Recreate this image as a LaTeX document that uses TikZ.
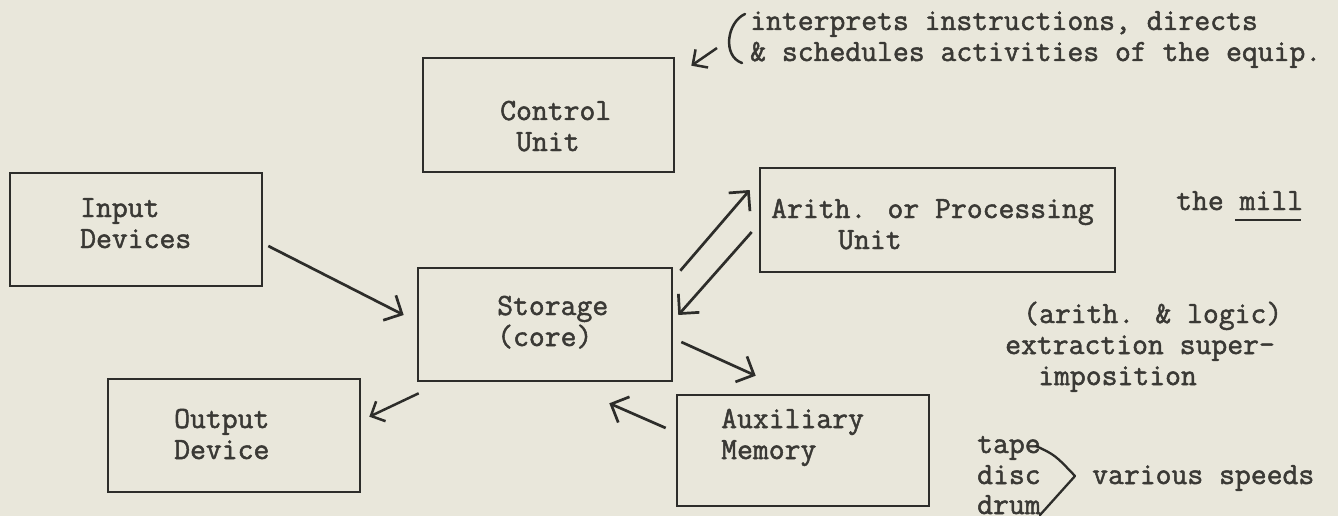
\documentclass[tikz,border=0pt]{standalone}
\usepackage{fontspec}
\newfontfamily\tw{Latin Modern Mono}[FakeBold=1.6]
\usetikzlibrary{arrows.meta,calc}
\definecolor{paper}{RGB}{233,231,219}
\definecolor{ink}{RGB}{45,45,42}
\definecolor{tink}{RGB}{58,57,53}
\begin{document}
\begin{tikzpicture}[x=1pt,y=-1pt,
  box/.style={draw=ink,line width=2.6pt,inner sep=0pt,minimum width=252pt,minimum height=113pt},
  txt/.style={inner sep=0pt,anchor=base west,font=\tw\fontsize{30.8}{31}\selectfont,text=tink},
  arr/.style={draw=ink,line width=2.7pt,-{Straight Barb[length=14pt,width=28pt,line width=2.7pt]}},
  sarr/.style={draw=ink,line width=2.5pt,-{Straight Barb[length=11pt,width=22pt,line width=2.5pt]}}]
\fill[paper] (0,0) rectangle (1338,516);
\useasboundingbox (0,0) rectangle (1338,516);
% boxes
\node[box,minimum width=251pt,minimum height=114pt] (ctl) at (548.5,115) {};
\node[box] (inp) at (136,229.5) {};
\node[box,minimum width=254pt] (sto) at (545,324.5) {};
\node[box,minimum width=355pt,minimum height=104pt] (ari) at (937.5,220) {};
\node[box] (out) at (234,435.5) {};
\node[box,minimum height=111pt] (aux) at (803,450.5) {};
% box texts
\node[txt] (t1) at (500,120) {Control};
\node[txt] (t2) at (516,151) {Unit};
\node[txt] (t3) at (80,217) {Input};
\node[txt] (t4) at (80,248) {Devices};
\node[txt] (t5) at (497,315) {Storage};
\node[txt] (t6) at (497,346) {(core)};
\node[txt] (t7) at (771,218) {Arith. or Processing};
\node[txt] (t8) at (838,249) {Unit};
\node[txt] (t9) at (174,428) {Output};
\node[txt] (t10) at (174,459) {Device};
\node[txt] (t11) at (721,428) {Auxiliary};
\node[txt] (t12) at (721,459) {Memory};
% annotations
\node[txt] (a1) at (750,30) {interprets instructions, directs};
\node[txt] (a2) at (750,61) {\& schedules activities of the equip.};
\node[txt] (a3) at (1176,210) {the mill};
\node[txt] (a4) at (1023,323) {(arith. \& logic)};
\node[txt] (a5) at (1005,354) {extraction super-};
\node[txt] (a6) at (1038,385) {imposition};
\node[txt] (a7) at (977,453) {tape};
\node[txt] (a8) at (977,484) {disc};
\node[txt] (a9) at (977,514) {drum};
\node[txt] (a10) at (1092,484) {various speeds};
% underline of mill
\draw[ink,line width=2.4pt] ($(a3.base east)+(-68,10)$) -- ($(a3.base east)+(-2,10)$);
% bracket near annotation
\draw[ink,line width=2.5pt,line cap=round] (745,14) .. controls (727,22) and (722,56) .. (742,63);
\coordinate (brk) at (717,48);
\draw[sarr] (brk) -- ($(ctl.north east)+(16,9)$);
% > bracket
\draw[ink,line width=2.3pt,line cap=round,line join=round] (1036,446) .. controls (1055,455) .. (1075,476) -- (1040,515);
% connectors
\draw[arr] ($(inp.east)+(5,16.5)$) -- ($(sto.west)+(-13,-9.5)$);
\draw[sarr] ($(sto.south west)+(2,11)$) -- ($(out.north east)+(8,39)$);
\draw[arr] ($(sto.north east)+(7,4)$) -- ($(ari.west)+(-9,-30)$);
\draw[arr] ($(ari.west)+(-7,12)$) -- ($(sto.east)+(5,-9.5)$);
\draw[arr] ($(sto.east)+(8,17.5)$) -- ($(aux.north west)+(80,-18)$);
\draw[arr] ($(aux.west)+(-10,-22.5)$) -- ($(sto.south east)+(-64,21)$);
\end{tikzpicture}
\end{document}
